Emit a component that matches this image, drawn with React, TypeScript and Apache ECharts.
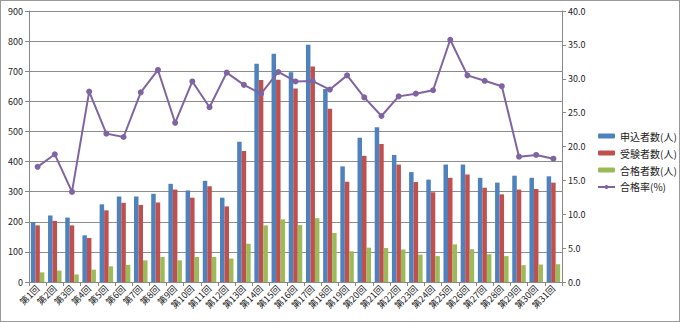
import React, { useEffect, useRef } from "react";
import * as echarts from "echarts";

const categories = Array.from({ length: 31 }, (_, i) => `第${i + 1}回`);

const applicants = [199, 221, 214, 155, 258, 284, 284, 293, 326, 304, 336, 280, 466, 725, 758, 697, 788, 641, 384, 479, 514, 422, 365, 340, 390, 390, 346, 330, 353, 346, 351];
const examinees = [188, 203, 188, 146, 238, 263, 256, 264, 307, 280, 318, 251, 435, 671, 672, 643, 716, 575, 333, 419, 458, 390, 332, 298, 346, 357, 313, 291, 307, 309, 330];
const passers = [32, 38, 25, 41, 52, 57, 72, 83, 72, 83, 83, 78, 127, 188, 208, 189, 212, 163, 102, 114, 113, 108, 91, 86, 125, 109, 92, 86, 56, 58, 59];
const passRate = [17.0, 18.85, 13.3, 28.1, 21.9, 21.4, 28.0, 31.3, 23.5, 29.6, 25.8, 30.9, 29.1, 27.8, 31.0, 29.6, 29.65, 28.4, 30.5, 27.25, 24.5, 27.4, 27.8, 28.3, 35.75, 30.5, 29.7, 28.9, 18.5, 18.75, 18.2];

const FONT = "'Noto Sans CJK JP', 'Noto Sans', sans-serif";

export default function App() {
  const ref = useRef<HTMLDivElement>(null);
  useEffect(() => {
    document.body.style.margin = "0";
    const chart = echarts.init(ref.current!, null, { renderer: "svg" });
    const barBase = { type: "bar" as const, barWidth: 4.5, barGap: "0%" };
    chart.setOption({
      animation: false,
      textStyle: { fontFamily: FONT },
      grid: { left: 28, right: 117, top: 10, bottom: 39 },
      legend: {
        orient: "vertical",
        left: 596,
        top: 130,
        padding: 0,
        itemWidth: 17,
        itemHeight: 5,
        itemGap: 7,
        textStyle: { fontSize: 10, color: "#222", fontFamily: FONT },
        data: ["申込者数(人)", "受験者数(人)", "合格者数(人)", "合格率(%)"],
      },
      xAxis: {
        type: "category",
        data: categories,
        axisLine: { lineStyle: { color: "#888" } },
        axisTick: { show: true, length: 4, lineStyle: { color: "#888" } },
        axisLabel: { rotate: 45, fontSize: 9, color: "#222", margin: 5, interval: 0 },
      },
      yAxis: [
        {
          type: "value",
          min: 0,
          max: 900,
          interval: 100,
          axisLine: { show: true, lineStyle: { color: "#888" } },
          axisTick: { show: true, length: 4, lineStyle: { color: "#888" } },
          axisLabel: { fontSize: 9, color: "#222", margin: 6 },
          splitLine: { lineStyle: { color: "#8c8c8c" } },
        },
        {
          type: "value",
          min: 0,
          max: 40,
          interval: 5,
          axisLine: { show: true, lineStyle: { color: "#888" } },
          axisTick: { show: true, length: 4, lineStyle: { color: "#888" } },
          axisLabel: { fontSize: 9, color: "#222", margin: 6, formatter: (v: number) => v.toFixed(1) },
          splitLine: { show: false },
        },
      ],
      series: [
        { ...barBase, name: "申込者数(人)", data: applicants, itemStyle: { color: "#4F81BD" } },
        { ...barBase, name: "受験者数(人)", data: examinees, itemStyle: { color: "#C0504D" } },
        { ...barBase, name: "合格者数(人)", data: passers, itemStyle: { color: "#9BBB59" } },
        {
          type: "line",
          name: "合格率(%)",
          yAxisIndex: 1,
          data: passRate,
          symbol: "circle",
          symbolSize: 6,
          lineStyle: { color: "#8064A2", width: 2 },
          itemStyle: { color: "#8064A2" },
        },
      ],
    });
    return () => chart.dispose();
  }, []);
  return (
    <div
      ref={ref}
      style={{ width: 680, height: 322, boxSizing: "border-box", border: "1px solid #9a9a9a" }}
    />
  );
}
